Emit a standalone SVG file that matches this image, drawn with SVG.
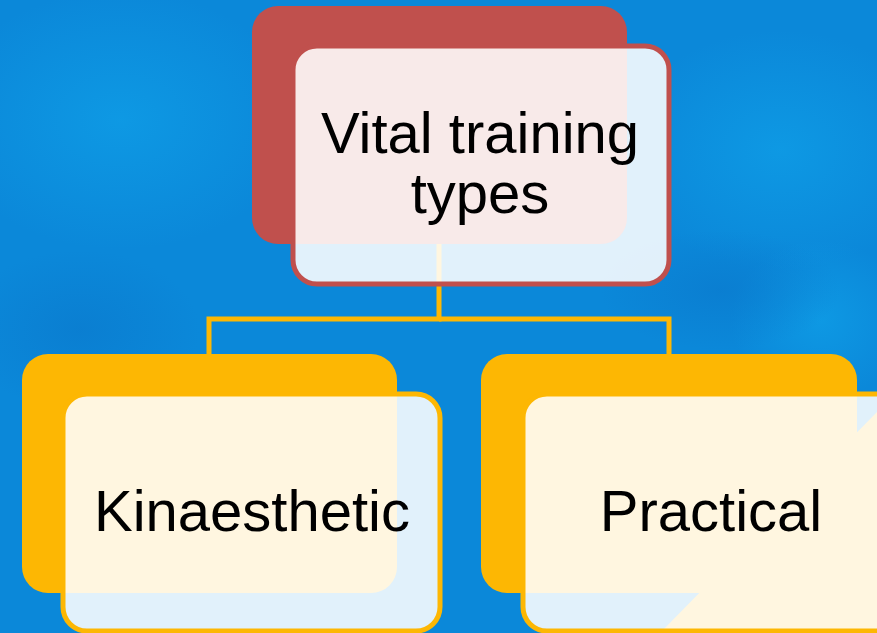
<svg xmlns="http://www.w3.org/2000/svg" width="877" height="633" viewBox="0 0 877 633">
  <defs>
    <radialGradient id="blot1" cx="0.5" cy="0.5" r="0.5">
      <stop offset="0" stop-color="#0FA0E8" stop-opacity="0.7"/>
      <stop offset="1" stop-color="#0FA0E8" stop-opacity="0"/>
    </radialGradient>
    <radialGradient id="blot2" cx="0.5" cy="0.5" r="0.5">
      <stop offset="0" stop-color="#0A78CC" stop-opacity="0.6"/>
      <stop offset="1" stop-color="#0A78CC" stop-opacity="0"/>
    </radialGradient>
  </defs>
  <style>
    .back-red { fill: #C0504D; }
    .back-yel { fill: #FDB703; }
    .front { fill: #FFFFFF; fill-opacity: 0.88; stroke-width: 5; }
    .front-red { stroke: #C0504D; }
    .front-yel { stroke: #FDB703; }
    .conn { fill: none; stroke: #FDB703; stroke-width: 5; }
    .label { font-family: "Liberation Sans", Arial, sans-serif; font-size: 58px; fill: #000000; text-anchor: middle; }
  </style>

  <g id="background">
    <rect x="0" y="0" width="877" height="633" fill="#0B88D9"/>
    <ellipse cx="780" cy="150" rx="160" ry="120" fill="url(#blot1)"/>
    <ellipse cx="120" cy="120" rx="180" ry="130" fill="url(#blot1)"/>
    <ellipse cx="820" cy="320" rx="90" ry="80" fill="url(#blot1)"/>
    <ellipse cx="80" cy="330" rx="120" ry="80" fill="url(#blot2)"/>
    <ellipse cx="720" cy="290" rx="120" ry="60" fill="url(#blot2)"/>
    <polygon points="877,412 877,633 660,633" fill="#FDB703"/>
  </g>

  <g id="connectors">
    <polyline class="conn" points="439,200 439,319 209,319 209,356"/>
    <polyline class="conn" points="439,319 669,319 669,356"/>
  </g>

  <g id="node-vital">
    <rect class="back-red" x="252" y="6" width="375" height="238" rx="26"/>
    <rect class="front front-red" x="293" y="46" width="376" height="238" rx="24"/>
    <text class="label" x="480" y="153">Vital training</text>
    <text class="label" x="480" y="213">types</text>
  </g>

  <g id="node-kinaesthetic">
    <rect class="back-yel" x="22" y="354" width="375" height="239" rx="26"/>
    <rect class="front front-yel" x="63" y="394" width="377" height="237" rx="24"/>
    <text class="label" x="252" y="531">Kinaesthetic</text>
  </g>

  <g id="node-practical">
    <rect class="back-yel" x="481" y="354" width="376" height="239" rx="26"/>
    <rect class="front front-yel" x="523" y="394" width="377" height="237" rx="24"/>
    <text class="label" x="711" y="531">Practical</text>
  </g>
</svg>
